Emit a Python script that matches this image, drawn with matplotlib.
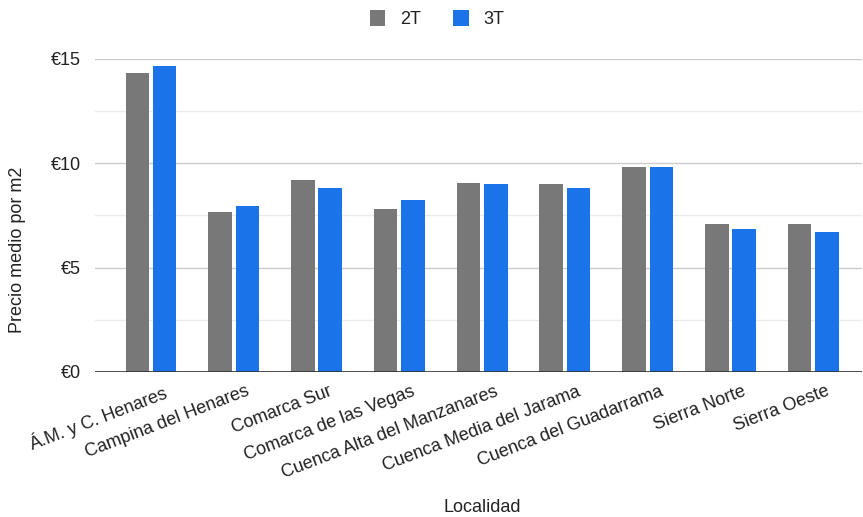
import matplotlib.pyplot as plt
import matplotlib.transforms as mtransforms
import numpy as np

plt.rcParams['font.family'] = ['Liberation Sans', 'DejaVu Sans']

localidades = ["Á.M. y C. Henares", "Campina del Henares", "Comarca Sur",
               "Comarca de las Vegas", "Cuenca Alta del Manzanares",
               "Cuenca Media del Jarama", "Cuenca del Guadarrama",
               "Sierra Norte", "Sierra Oeste"]
precio_2t = [14.34, 7.65, 9.21, 7.81, 9.07, 8.99, 9.81, 7.09, 7.09]
precio_3t = [14.66, 7.97, 8.83, 8.26, 8.99, 8.83, 9.81, 6.85, 6.71]

fig = plt.figure(figsize=(8.63, 5.17), dpi=100)
ax = fig.add_axes([0.110, 0.2805, 0.889, 0.6055])

x = np.arange(len(localidades))
w = 0.285
ax.bar(x - 0.165, precio_2t, w, color='#787878', label='2T', zorder=3)
ax.bar(x + 0.165, precio_3t, w, color='#1a73e8', label='3T', zorder=3)

ax.set_xlim(-0.677, 8.59)
ax.set_ylim(0, 15)
ax.set_yticks([0, 5, 10, 15])
ax.set_yticklabels(['€0', '€5', '€10', '€15'])
ax.set_yticks([2.5, 7.5, 12.5], minor=True)
ax.grid(axis='y', which='major', color='#cccccc', linewidth=1, zorder=0)
ax.grid(axis='y', which='minor', color='#ebebeb', linewidth=1, zorder=0)
ax.axhline(0, color='#333333', linewidth=1.2, zorder=4)

ax.set_xticks(x)
ax.set_xticklabels(localidades, rotation=21, ha='right', rotation_mode='anchor')
ax.tick_params(axis='both', which='both', length=0, labelsize=13, colors='#222222')
ax.tick_params(axis='x', pad=8)
ax.tick_params(axis='y', pad=10)
# nudge the slanted labels to the right like the original
shift = mtransforms.ScaledTranslation(12 / 100, 0, fig.dpi_scale_trans)
for lbl in ax.get_xticklabels():
    lbl.set_transform(lbl.get_transform() + shift)
for s in ax.spines.values():
    s.set_visible(False)

fig.text(18 / 863, 1 - 250 / 517, 'Precio medio por m2', fontsize=13, color='#222222',
         rotation=90, ha='center', va='center')
fig.text(482 / 863, 1 - 508 / 517, 'Localidad', fontsize=13, color='#222222',
         ha='center', va='center')

ax.legend(loc='center', bbox_to_anchor=(437 / 863, 1 - 19 / 517), bbox_transform=fig.transFigure,
          ncol=2, frameon=False, fontsize=13, handlelength=0.85, handleheight=1.0,
          columnspacing=1.8, handletextpad=0.8, labelcolor='#222222')

plt.savefig('out.png', dpi=100)
